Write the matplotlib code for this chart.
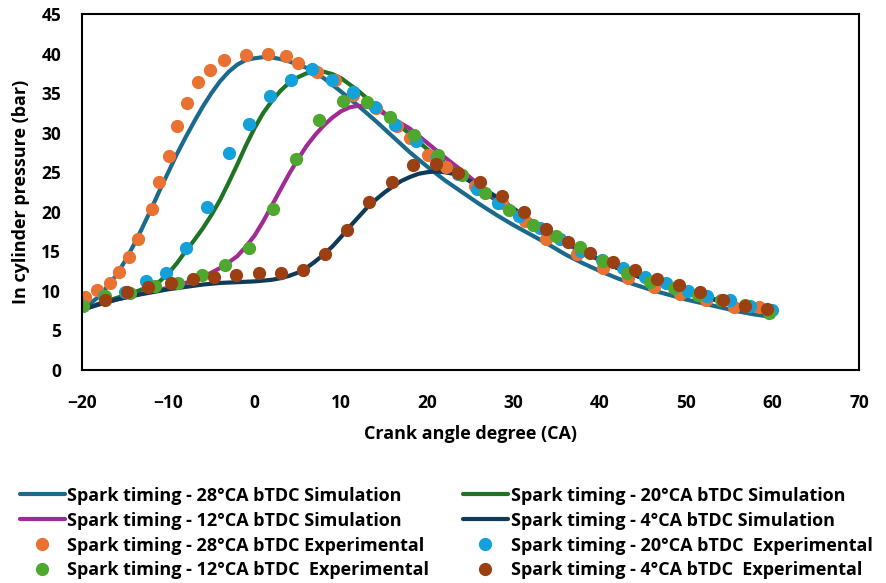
import numpy as np
import matplotlib
matplotlib.use('Agg')
import matplotlib.pyplot as plt

plt.rcParams['font.family'] = ['Open Sans', 'DejaVu Sans']
plt.rcParams['font.weight'] = 'bold'

# Curvas de simulacion
ca_sim_28 = [-20, -18, -16, -15, -14, -13, -12, -11, -10, -9, -8, -7, -6,
             -5, -4, -3, -2, -1, 0, 1, 2, 3, 4, 6, 8, 10, 12, 14, 16, 18,
             20, 22, 24, 26, 28, 30, 32, 34, 36, 38, 40, 42, 44, 46, 48, 50,
             52, 54, 56, 58, 60]
sim_28 = [7.6, 9.3, 12.0, 13.8, 15.8, 18.0, 20.3, 22.7, 25.0, 27.3, 29.4,
          31.4, 33.3, 35.0, 36.5, 37.7, 38.6, 39.2, 39.4, 39.55, 39.5, 39.3,
          39.0, 38.2, 36.9, 35.2, 33.4, 31.5, 29.5, 27.5, 25.7, 24.0, 22.5,
          21.0, 19.6, 18.3, 17.1, 15.9, 14.6, 13.5, 12.5, 11.6, 10.8, 10.1,
          9.5, 8.9, 8.4, 7.9, 7.4, 7.0, 6.7]
ca_sim_20 = [-20, -18, -16, -14, -12, -11, -10, -9, -8, -7, -6, -5, -4, -3,
             -2, -1, 0, 1, 2, 3, 4, 5, 6, 7, 8, 9, 10, 12, 14, 16, 18, 20,
             22, 24, 26, 28, 30, 32, 34, 36, 38, 40, 42, 44, 46, 48, 50, 52,
             54, 56, 58, 60]
sim_20 = [7.6, 8.4, 9.1, 9.8, 10.6, 11.2, 12.2, 13.5, 15.0, 16.4, 17.9,
          19.6, 21.5, 23.7, 26.0, 28.4, 30.6, 32.5, 34.0, 35.3, 36.3, 37.0,
          37.5, 37.7, 37.7, 37.4, 36.9, 35.3, 33.4, 31.6, 29.8, 27.9, 26.2,
          24.6, 23.0, 21.4, 20.0, 18.6, 17.3, 16.1, 15.0, 13.9, 12.9, 12.0,
          11.2, 10.5, 9.8, 9.2, 8.7, 8.2, 7.7, 7.3]
ca_sim_12 = [-20, -18, -16, -14, -12, -10, -8, -6, -5, -4, -3, -2, -1, 0, 1,
             2, 3, 4, 5, 6, 7, 8, 9, 10, 11, 12, 13, 14, 16, 18, 20, 22, 24,
             26, 28, 30, 32, 34, 36, 38, 40, 42, 44, 46, 48, 50, 52, 54, 56,
             58, 60]
sim_12 = [7.6, 8.3, 8.9, 9.4, 9.9, 10.4, 11.0, 11.8, 12.3, 12.9, 13.6, 14.4,
          15.6, 17.0, 18.8, 20.8, 22.8, 24.8, 26.6, 28.3, 29.7, 30.9, 31.9,
          32.7, 33.2, 33.4, 33.3, 33.0, 31.8, 30.5, 28.7, 26.9, 25.2, 23.4,
          21.6, 20.0, 18.6, 17.2, 16.0, 14.9, 13.9, 12.9, 12.0, 11.2, 10.5,
          9.8, 9.2, 8.7, 8.2, 7.7, 7.3]
ca_sim_4 = [-20, -18, -16, -14, -12, -10, -8, -6, -4, -2, 0, 1, 2, 3, 4, 5,
            6, 7, 8, 9, 10, 11, 12, 13, 14, 15, 16, 17, 18, 19, 20, 21, 22,
            23, 24, 26, 28, 30, 32, 34, 36, 38, 40, 42, 44, 46, 48, 50, 52,
            54, 56, 58, 60]
sim_4 = [7.6, 8.3, 8.9, 9.4, 9.8, 10.2, 10.5, 10.8, 11.0, 11.1, 11.2, 11.3,
         11.4, 11.6, 11.9, 12.3, 12.9, 13.7, 14.6, 15.6, 16.8, 18.1, 19.3,
         20.5, 21.5, 22.4, 23.2, 23.9, 24.4, 24.8, 25.0, 25.1, 25.0, 24.8,
         24.4, 23.3, 21.9, 20.4, 18.9, 17.5, 16.2, 15.0, 13.9, 12.9, 12.0,
         11.2, 10.5, 9.9, 9.3, 8.7, 8.2, 7.7, 7.3]

# Puntos experimentales
ca_exp_28 = [-19.6, -18.3, -16.8, -15.7, -14.6, -13.5, -11.9, -11.1, -9.9,
             -9.0, -7.8, -6.6, -5.2, -3.6, -1.0, 1.5, 3.6, 5.0, 7.2, 9.3,
             11.4, 14.1, 16.5, 18.0, 20.1, 22.2, 25.5, 28.6, 31.3, 33.8,
             37.3, 40.4, 43.3, 46.3, 49.3, 52.3, 55.5, 58.4]
exp_28 = [9.2, 10.1, 11.0, 12.4, 14.3, 16.6, 20.4, 23.7, 27.0, 30.8, 33.7,
          36.4, 37.9, 39.2, 39.8, 40.0, 39.7, 38.8, 37.7, 36.7, 34.8, 33.1,
          30.8, 29.3, 27.2, 25.7, 23.2, 21.1, 18.8, 16.6, 14.7, 12.9, 11.6,
          10.5, 9.6, 8.8, 7.9, 7.9]
ca_exp_20 = [-17.5, -15.0, -12.6, -10.3, -7.9, -5.5, -3.0, -0.6, 1.8, 4.2,
             6.7, 9.0, 11.4, 14.0, 16.3, 18.7, 21.1, 23.5, 25.8, 28.2, 30.6,
             33.0, 35.4, 37.8, 40.2, 42.7, 45.2, 47.7, 50.2, 52.4, 55.1,
             57.4, 59.9]
exp_20 = [9.3, 9.8, 11.2, 12.2, 15.4, 20.6, 27.4, 31.1, 34.6, 36.7, 38.1,
          36.7, 35.1, 33.2, 31.0, 28.9, 26.9, 24.8, 22.9, 21.1, 19.5, 18.0,
          16.5, 15.1, 13.9, 12.9, 11.8, 11.0, 10.0, 9.3, 8.8, 8.1, 7.6]
ca_exp_12 = [-19.9, -17.3, -14.4, -11.5, -8.9, -6.1, -3.4, -0.7, 2.1, 4.8,
             7.5, 10.2, 13.0, 15.7, 18.5, 21.2, 24.0, 26.7, 29.5, 32.2, 34.9,
             37.7, 40.4, 43.1, 45.8, 48.6, 51.3, 54.0, 56.8, 59.6]
exp_12 = [8.1, 9.3, 9.7, 10.6, 11.0, 12.0, 13.3, 15.4, 20.3, 26.7, 31.6,
          34.0, 33.9, 32.0, 29.7, 27.2, 24.6, 22.4, 20.2, 18.3, 16.9, 15.5,
          13.8, 12.2, 11.1, 10.3, 9.5, 8.9, 8.2, 7.2]
ca_exp_4 = [-17.3, -14.8, -12.3, -9.7, -7.1, -4.7, -2.1, 0.5, 3.1, 5.6, 8.2,
            10.7, 13.3, 15.9, 18.4, 21.0, 23.5, 26.1, 28.6, 31.2, 33.7, 36.3,
            38.9, 41.5, 44.0, 46.6, 49.1, 51.6, 54.2, 56.8, 59.4]
exp_4 = [8.9, 9.8, 10.5, 11.0, 11.5, 11.8, 12.0, 12.2, 12.2, 12.6, 14.6,
         17.7, 21.2, 23.8, 25.9, 26.1, 24.9, 23.7, 22.0, 20.0, 17.8, 16.2,
         14.8, 13.7, 12.6, 11.5, 10.7, 9.8, 8.9, 8.1, 7.7]

fig = plt.figure(figsize=(8.87, 5.83), dpi=100)
ax = fig.add_axes([0.0924, 0.3654, 0.876, 0.6106])

# Lineas de simulacion
kw_line = dict(lw=3, solid_joinstyle='round', solid_capstyle='round')
l28, = ax.plot(ca_sim_28, sim_28, color='#1b6a8c',
               label='Spark timing - 28°CA bTDC Simulation', **kw_line)
l20, = ax.plot(ca_sim_20, sim_20, color='#1e7324',
               label='Spark timing - 20°CA bTDC Simulation', **kw_line)
l12, = ax.plot(ca_sim_12, sim_12, color='#a02b93',
               label='Spark timing - 12°CA bTDC Simulation', **kw_line)
l4, = ax.plot(ca_sim_4, sim_4, color='#0f3b58',
              label='Spark timing - 4°CA bTDC Simulation', **kw_line)

# Puntos experimentales
ms = 8.5
p28, = ax.plot(ca_exp_28, exp_28, 'o', color='#e97132', ms=ms, ls='none',
               label='Spark timing - 28°CA bTDC Experimental')
p20, = ax.plot(ca_exp_20, exp_20, 'o', color='#14a0d8', ms=ms, ls='none',
               label='Spark timing - 20°CA bTDC  Experimental')
p12, = ax.plot(ca_exp_12, exp_12, 'o', color='#4ea72e', ms=ms, ls='none',
               label='Spark timing - 12°CA bTDC  Experimental')
p4, = ax.plot(ca_exp_4, exp_4, 'o', color='#9a4012', ms=ms, ls='none',
              label='Spark timing - 4°CA bTDC  Experimental')

ax.set_xlim(-20, 70)
ax.set_ylim(0, 45)
ax.set_xticks(np.arange(-20, 71, 10))
ax.set_yticks(np.arange(0, 46, 5))
ax.tick_params(axis='x', length=0, labelsize=12.5, pad=17)
ax.tick_params(axis='y', length=0, labelsize=12.5, pad=15)
for s in ax.spines.values():
    s.set_linewidth(1.5)
ax.set_xlabel('Crank angle degree (CA)', fontsize=13, fontweight='bold',
              labelpad=10)
ax.set_ylabel('In cylinder pressure (bar)', fontsize=13, fontweight='bold',
              labelpad=8)

# Leyenda en dos columnas (orden por columnas)
handles = [l28, l12, p28, p12, l20, l4, p20, p4]
fig.legend(handles, [h.get_label() for h in handles], ncol=2,
           loc='upper left', bbox_to_anchor=(0.022, 0.165), frameon=False,
           fontsize=13, handlelength=2.5, handletextpad=0.15,
           columnspacing=1.85, labelspacing=0.38, borderpad=0,
           borderaxespad=0, numpoints=1)

fig.savefig('out.png', dpi=100)
